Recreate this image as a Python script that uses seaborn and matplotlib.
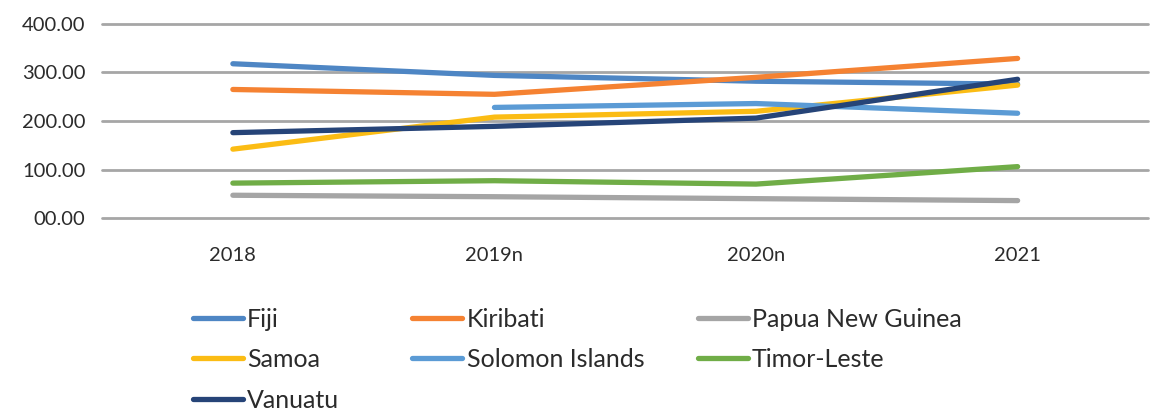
import pandas as pd
import seaborn as sns
import matplotlib.pyplot as plt
from matplotlib.ticker import FuncFormatter
import numpy as np

# values
years = ['2018', '2019n', '2020n', '2021']
fiji = [318, 294, 282, 276]
kiribati = [265, 255, 290, 329]
png = [47, 44, 40, 36]
samoa = [142, 208, 220, 274]
solomon = [np.nan, 228, 236, 216]
timor = [72, 77, 70, 106]
vanuatu = [176, 189, 206, 286]

countries = ['Fiji', 'Kiribati', 'Papua New Guinea', 'Samoa',
             'Solomon Islands', 'Timor-Leste', 'Vanuatu']
colors = ['#4E86C4', '#F58232', '#A5A5A5', '#FBBC14',
          '#5B9BD5', '#70AD47', '#264478']

series = [fiji, kiribati, png, samoa, solomon, timor, vanuatu]
df = pd.concat([pd.DataFrame({'year': years, 'value': vals, 'country': name})
                for name, vals in zip(countries, series)], ignore_index=True)

sns.set_style('white')
plt.rcParams['font.family'] = ['Lato', 'DejaVu Sans']

fig = plt.figure(figsize=(11.6, 4.13), dpi=100)
ax = fig.add_axes([0.088, 0.472, 0.902, 0.47])

sns.lineplot(data=df, x='year', y='value', hue='country',
             palette=dict(zip(countries, colors)), linewidth=3.8,
             solid_capstyle='round', ax=ax, legend=False, sort=False)

ax.set_xlim(-0.5, 3.5)
ax.set_ylim(0, 400)
ax.set_yticks([0, 100, 200, 300, 400])
ax.yaxis.set_major_formatter(FuncFormatter(lambda v, p: f'{v:05.2f}'))
ax.set_xlabel('')
ax.set_ylabel('')
ax.grid(axis='y', color='#A6A6A6', linewidth=2)
ax.grid(axis='x', visible=False)
ax.set_axisbelow(True)
for s in ax.spines.values():
    s.set_visible(False)
ax.tick_params(axis='y', length=0, pad=12, labelsize=14.5, labelcolor='#2B2B2B')
ax.tick_params(axis='x', length=0, pad=21, labelsize=14.5, labelcolor='#2B2B2B')
for gl in ax.get_ygridlines():
    gl.set_clip_on(False)

# legend laid out row by row, one legend per column so the columns sit where they do
columns = [[0, 3, 6], [1, 4], [2, 5]]
col_x = [192.5, 412.5, 697.5]
for idx, x in zip(columns, col_x):
    handles = [plt.Line2D([], [], color=colors[i], linewidth=3.8, solid_capstyle='round')
               for i in idx]
    fig.legend(handles, [countries[i] for i in idx], loc='upper left',
               bbox_to_anchor=(x / 1160, 0.255), frameon=False, fontsize=18,
               handlelength=2.0, handletextpad=0.18, labelspacing=0.7,
               labelcolor='#2B2B2B', borderaxespad=0, borderpad=0)

fig.savefig('out.png', dpi=100)
